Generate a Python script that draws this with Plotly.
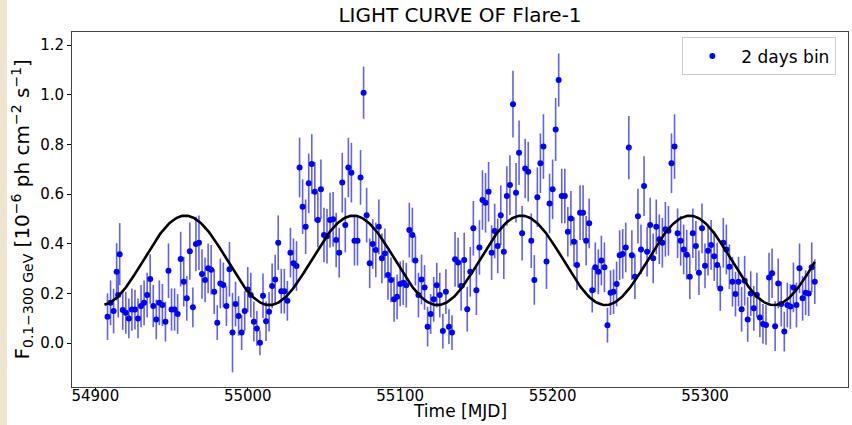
import numpy as np
import plotly.graph_objects as go

# ---- data (MJD, flux, 1-sigma error) ----
T1 = [54908, 54910, 54912, 54914, 54915, 54916, 54918, 54920, 54922, 54924,
      54926, 54928, 54930, 54932, 54934, 54936, 54938, 54940, 54942, 54944,
      54946, 54948, 54950, 54952, 54954, 54956, 54958, 54960, 54962]
F1 = [0.106, 0.162, 0.129, 0.287, 0.193, 0.358, 0.133, 0.122, 0.099, 0.135,
      0.135, 0.099, 0.149, 0.162, 0.193, 0.258, 0.149, 0.095, 0.162, 0.153,
      0.086, 0.291, 0.135, 0.135, 0.117, 0.338, 0.247, 0.180, 0.370]
E1 = [0.094, 0.09, 0.09, 0.115, 0.09, 0.125, 0.08, 0.085, 0.08, 0.085,
      0.08, 0.08, 0.085, 0.09, 0.09, 0.1, 0.085, 0.08, 0.09, 0.085,
      0.08, 0.11, 0.085, 0.085, 0.08, 0.11, 0.1, 0.09, 0.115]

T2 = [54964, 54966, 54968, 54970, 54972, 54974, 54976, 54978, 54980, 54982,
      54984, 54986, 54988, 54990, 54992, 54994, 54996, 54998, 55000, 55002,
      55004, 55006, 55008, 55010, 55012, 55014, 55016, 55018, 55020, 55022]
F2 = [0.144, 0.399, 0.404, 0.278, 0.254, 0.301, 0.295, 0.207, 0.082, 0.240,
      0.234, 0.149, 0.297, 0.042, 0.157, 0.109, 0.042, 0.129, 0.216, 0.193,
      0.086, 0.059, 0.001, 0.190, 0.088, 0.126, 0.230, 0.256, 0.404, 0.209]
E2 = [0.08, 0.11, 0.11, 0.1, 0.09, 0.1, 0.1, 0.09, 0.07, 0.1,
      0.09, 0.08, 0.11, 0.16, 0.09, 0.08, 0.07, 0.08, 0.09, 0.09,
      0.08, 0.07, 0.05, 0.09, 0.08, 0.08, 0.09, 0.1, 0.11, 0.09]

T3 = [55024, 55026, 55028, 55030, 55032, 55034, 55036, 55038, 55040, 55042,
      55044, 55046, 55048, 55050, 55052, 55054, 55056, 55058, 55060, 55062,
      55064, 55066, 55068, 55070, 55072, 55074, 55076, 55078, 55080]
F3 = [0.209, 0.170, 0.364, 0.321, 0.310, 0.707, 0.549, 0.468, 0.643, 0.721,
      0.609, 0.495, 0.619, 0.435, 0.430, 0.495, 0.498, 0.415, 0.364, 0.646,
      0.475, 0.707, 0.686, 0.412, 0.412, 0.667, 1.008, 0.515, 0.321]
E3 = [0.09, 0.08, 0.1, 0.1, 0.1, 0.12, 0.11, 0.11, 0.12, 0.12,
      0.12, 0.11, 0.12, 0.11, 0.11, 0.11, 0.11, 0.11, 0.1, 0.12,
      0.11, 0.12, 0.12, 0.1, 0.1, 0.11, 0.105, 0.11, 0.1]

T4 = [55082, 55084, 55086, 55088, 55090, 55092, 55094, 55096, 55098, 55100,
      55102, 55104, 55106, 55108, 55110, 55112, 55114, 55116, 55118, 55120,
      55122, 55124, 55126, 55128, 55130, 55132, 55134, 55136, 55138]
F4 = [0.399, 0.375, 0.468, 0.341, 0.361, 0.274, 0.254, 0.176, 0.186, 0.238,
      0.243, 0.233, 0.455, 0.435, 0.332, 0.193, 0.256, 0.224, 0.066, 0.117,
      0.176, 0.233, 0.193, 0.048, 0.207, 0.066, 0.042, 0.337, 0.324]
E4 = [0.1, 0.11, 0.11, 0.1, 0.1, 0.1, 0.09, 0.09, 0.09, 0.09,
      0.09, 0.09, 0.11, 0.11, 0.1, 0.09, 0.1, 0.09, 0.08, 0.08,
      0.09, 0.09, 0.09, 0.07, 0.09, 0.07, 0.07, 0.11, 0.1]

T5 = [55140, 55142, 55144, 55146, 55148, 55150, 55152, 55154, 55156, 55158,
      55160, 55162, 55164, 55166, 55168, 55170, 55172, 55174, 55176, 55178,
      55180, 55182, 55184, 55186, 55188, 55190, 55192, 55194, 55196, 55198]
F5 = [0.230, 0.334, 0.136, 0.287, 0.462, 0.213, 0.385, 0.576, 0.565, 0.609,
      0.364, 0.451, 0.391, 0.515, 0.368, 0.592, 0.636, 0.962, 0.605, 0.766,
      0.442, 0.703, 0.690, 0.412, 0.254, 0.587, 0.724, 0.791, 0.328, 0.562]
E5 = [0.1, 0.11, 0.09, 0.1, 0.11, 0.1, 0.11, 0.12, 0.12, 0.12,
      0.11, 0.11, 0.11, 0.12, 0.11, 0.12, 0.12, 0.134, 0.12, 0.13,
      0.11, 0.12, 0.12, 0.11, 0.1, 0.12, 0.12, 0.13, 0.11, 0.12]

T6 = [55200, 55202, 55204, 55206, 55208, 55210, 55212, 55214, 55216, 55218,
      55220, 55222, 55224, 55226, 55228, 55230, 55232, 55234, 55236, 55238,
      55240, 55242, 55244, 55246, 55248, 55250, 55252, 55254, 55256, 55258]
F6 = [0.619, 0.860, 1.059, 0.592, 0.592, 0.448, 0.502, 0.408, 0.314, 0.525,
      0.525, 0.412, 0.482, 0.213, 0.305, 0.287, 0.332, 0.305, 0.072, 0.203,
      0.207, 0.238, 0.354, 0.359, 0.385, 0.787, 0.354, 0.267, 0.511, 0.377]
E6 = [0.12, 0.127, 0.107, 0.11, 0.11, 0.1, 0.11, 0.1, 0.1, 0.11,
      0.11, 0.1, 0.1, 0.09, 0.1, 0.09, 0.1, 0.1, 0.07, 0.09,
      0.09, 0.09, 0.1, 0.1, 0.1, 0.127, 0.1, 0.09, 0.11, 0.1]

T7 = [55260, 55262, 55264, 55266, 55268, 55270, 55272, 55274, 55276, 55278,
      55280, 55282, 55284, 55286, 55288, 55290, 55292, 55294, 55296, 55298,
      55300, 55302, 55304, 55306, 55308, 55310, 55312, 55314, 55316]
F7 = [0.632, 0.368, 0.475, 0.341, 0.468, 0.418, 0.404, 0.458, 0.452, 0.724,
      0.791, 0.442, 0.412, 0.377, 0.356, 0.267, 0.442, 0.391, 0.283, 0.462,
      0.311, 0.372, 0.395, 0.350, 0.314, 0.220, 0.404, 0.377, 0.307]
E7 = [0.12, 0.1, 0.11, 0.1, 0.11, 0.1, 0.1, 0.11, 0.1, 0.12,
      0.13, 0.1, 0.1, 0.1, 0.1, 0.09, 0.1, 0.1, 0.09, 0.1,
      0.09, 0.1, 0.1, 0.1, 0.09, 0.09, 0.1, 0.1, 0.09]

T8 = [55318, 55320, 55322, 55324, 55326, 55328, 55330, 55332, 55334, 55336,
      55338, 55340, 55342, 55344, 55346, 55348, 55350, 55352, 55354, 55356,
      55358, 55360, 55362, 55364, 55366, 55368, 55370, 55372]
F8 = [0.247, 0.197, 0.247, 0.136, 0.251, 0.095, 0.199, 0.140, 0.193, 0.103,
      0.077, 0.073, 0.264, 0.281, 0.068, 0.240, 0.157, 0.046, 0.153, 0.147,
      0.224, 0.153, 0.301, 0.180, 0.203, 0.199, 0.305, 0.247]
E8 = [0.1, 0.09, 0.1, 0.09, 0.1, 0.09, 0.09, 0.09, 0.09, 0.08,
      0.08, 0.08, 0.1, 0.1, 0.1, 0.1, 0.09, 0.08, 0.09, 0.09,
      0.1, 0.09, 0.1, 0.09, 0.09, 0.09, 0.1, 0.09]

time_mjd = T1 + T2 + T3 + T4 + T5 + T6 + T7 + T8
flux = F1 + F2 + F3 + F4 + F5 + F6 + F7 + F8
flux_err = E1 + E2 + E3 + E4 + E5 + E6 + E7 + E8

# ---- sinusoidal model parameters ----
MODEL_MEAN = 0.333
MODEL_AMP = 0.18
MODEL_PERIOD = 110.3
MODEL_TPEAK = 54959.0
MODEL_START, MODEL_END = 54906.0, 55372.0

x_ticks = [54900, 55000, 55100, 55200, 55300]
y_ticks = [0.0, 0.2, 0.4, 0.6, 0.8, 1.0, 1.2]

TITLE = "LIGHT CURVE OF Flare-1"
X_LABEL = "Time [MJD]"
Y_LABEL = ("F<sub>0.1\u2212300 GeV</sub> [10<sup>\u22126</sup> ph cm<sup>\u22122</sup> "
           "s<sup>\u22121</sup>]")

tm = np.linspace(MODEL_START, MODEL_END, 600)
model = MODEL_MEAN + MODEL_AMP * np.cos(2 * np.pi * (tm - MODEL_TPEAK) / MODEL_PERIOD)

FONT = "DejaVu Sans"

fig = go.Figure()
fig.add_trace(go.Scatter(
    x=time_mjd, y=flux, mode="markers", name="2 days bin",
    marker=dict(color="#0000ff", size=6),
    error_y=dict(type="data", array=flux_err, color="rgba(30,30,230,0.7)",
                 thickness=1.6, width=0),
))
fig.add_trace(go.Scatter(
    x=tm, y=model, mode="lines", line=dict(color="black", width=2.6),
    showlegend=False, hoverinfo="skip",
))

L, R, T, B = 72, 4, 32, 38
W, H = 852, 425
pw = W - L - R
ph = H - T - B

fig.update_layout(
    width=W, height=H,
    margin=dict(l=L, r=R, t=T, b=B),
    paper_bgcolor="white", plot_bgcolor="white",
    font=dict(family=FONT, color="black", size=15),
    title=dict(text=TITLE, x=(L + pw / 2) / W, xanchor="center",
               y=1 - 15 / H, yanchor="middle", font=dict(size=20, family=FONT)),
    xaxis=dict(range=[54884.7, 55393.8], tickvals=x_ticks,
               ticktext=[str(v) for v in x_ticks],
               ticks="outside", ticklen=3, tickcolor="black",
               ticklabelstandoff=-8,
               showline=True, linecolor="#444", linewidth=1, mirror=True,
               showgrid=False, zeroline=False,
               tickfont=dict(size=15)),
    yaxis=dict(range=[-0.177, 1.2525], tickvals=y_ticks,
               ticktext=["%.1f" % v for v in y_ticks],
               ticks="outside", ticklen=4, tickcolor="black",
               showline=True, linecolor="#444", linewidth=1, mirror=True,
               showgrid=False, zeroline=False,
               tickfont=dict(size=15)),
    legend=dict(x=0.985, y=0.985, xanchor="right", yanchor="top",
                bordercolor="#cccccc", borderwidth=1, bgcolor="white",
                itemwidth=48, font=dict(size=17)),
    annotations=[
        dict(text=X_LABEL, xref="paper", yref="paper", x=0.5,
             y=-(423 - (T + ph)) / ph, xanchor="center", yanchor="bottom",
             showarrow=False, font=dict(size=17)),
        dict(text=Y_LABEL, xref="paper", yref="paper", x=(22 - L) / pw,
             y=0.5, xanchor="center", yanchor="middle", textangle=-90,
             showarrow=False, font=dict(size=20)),
    ],
    shapes=[dict(type="rect", xref="paper", yref="paper",
                 x0=(0 - L) / pw, x1=(7 - L) / pw, y0=-1, y1=2,
                 fillcolor="#efe4cf", line=dict(width=0), layer="below")],
)

fig.write_html("out.html", config={"displayModeBar": False},
               post_script="document.body.style.margin='0';document.body.style.padding='0';")
